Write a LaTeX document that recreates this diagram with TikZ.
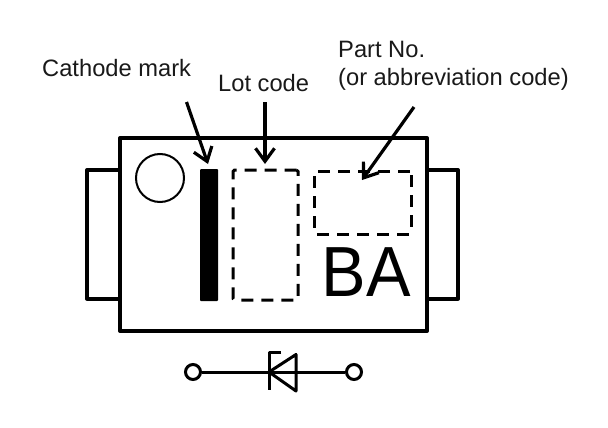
\documentclass[tikz,border=0pt]{standalone}
\usepackage{fontspec}
\setmainfont{Liberation Sans}
\usetikzlibrary{arrows.meta}
\tikzset{
  body/.style={draw=black,line width=4pt,line join=round},
  dashbox/.style={draw=black,line width=3pt,dash pattern=on 12pt off 8pt,rounded corners=1.5pt},
  pointer/.style={draw=black,line width=3.2pt,-{Straight Barb[length=13pt,width=19pt,line width=3.2pt]}},
  wire/.style={draw=black,line width=3pt,line join=round},
  terminal/.style={circle,draw=black,line width=3pt,fill=white,minimum size=15pt,inner sep=0pt},
  lbl/.style={font=\fontsize{23.7}{28}\selectfont,inner sep=0pt,text=black!90,align=left}
}
\begin{document}
\begin{tikzpicture}[x=1pt,y=-1pt]
\useasboundingbox (0,0) rectangle (608,428);
\fill[white] (0,0) rectangle (608,428);
% leads
\draw[body] (120,170) -- (87,170) -- (87,298.5) -- (120,298.5);
\draw[body] (427,170) -- (458,170) -- (458,298.5) -- (427,298.5);
% package
\draw[body] (120,138) rectangle (427,331);
\node[circle,draw=black,line width=2pt,minimum size=48pt,inner sep=0pt] (dot) at (160,178) {};
\fill[black,rounded corners=1pt] (200,169) rectangle (218,301);
\node[dashbox,minimum width=65pt,minimum height=130pt,inner sep=0pt] (lot) at (265.5,235) {};
\node[dashbox,minimum width=97pt,minimum height=63pt,inner sep=0pt] (part) at (362.5,202.5) {};
\node[inner sep=0pt,font=\fontsize{71}{72}\selectfont,xscale=.94,anchor=base] (ba) at (366,296) {BA};
% labels
\node[lbl,anchor=base west] (cm) at (42,77) {Cathode mark};
\node[lbl,anchor=base west] (lc) at (218,92) {Lot code};
\node[lbl,anchor=base west] (pn1) at (338,58) {Part No.};
\node[lbl,anchor=base west] (pn2) at (338,85) {(or abbreviation code)};
% pointers
\coordinate (cmS) at (186.5,102);
\coordinate (cmE) at (208,164);
\coordinate (lcS) at (265,102);
\coordinate (lcE) at (265,164);
\coordinate (pnS) at (414,107);
\coordinate (pnE) at (362,180);
\draw[pointer] (cmS) -- (cmE);
\draw[pointer] (lcS) -- (lcE);
\draw[pointer] (pnS) -- (pnE);
% diode symbol
\node[terminal] (t1) at (193,372) {};
\node[terminal] (t2) at (354,372) {};
\draw[wire] (t1) -- (t2);
\draw[wire] (281,352.5) -- (269,352.5) -- (269,390);
\draw[wire] (269,372) -- (296,354.5) -- (296,391) -- cycle;
\end{tikzpicture}
\end{document}
